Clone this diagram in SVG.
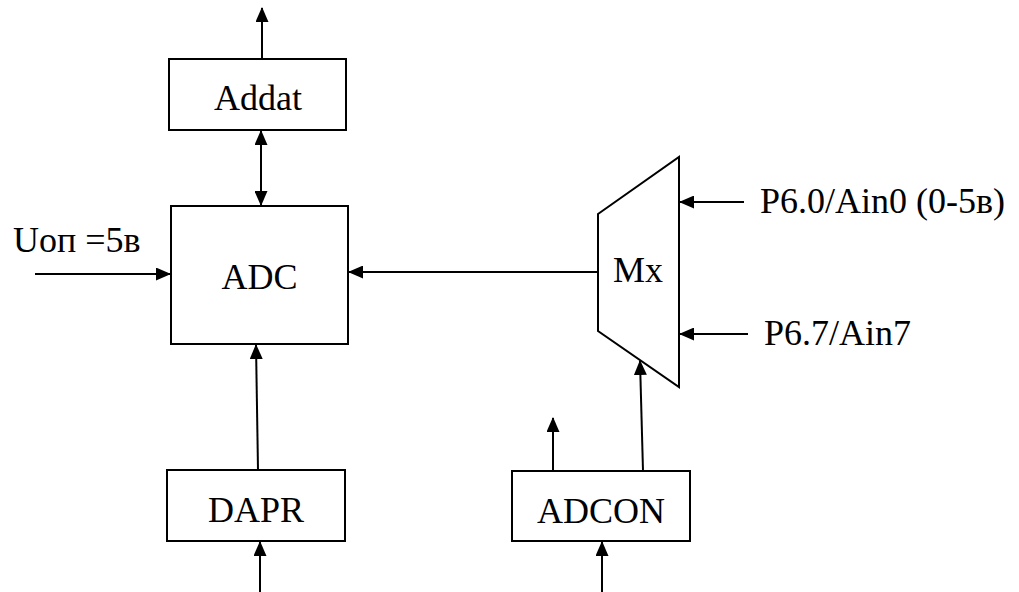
<svg xmlns="http://www.w3.org/2000/svg" width="1019" height="592" viewBox="0 0 1019 592">
<style>
.box{fill:#fff;stroke:#000;stroke-width:2}
.lbl{font-family:"Liberation Serif","Times New Roman",serif;font-size:36px;fill:#000}
.c{text-anchor:middle}
.wire{fill:none;stroke:#000;stroke-width:2}
</style>
<defs>
<marker id="ah" viewBox="0 0 15 13" refX="14" refY="6.5" markerWidth="15" markerHeight="13" markerUnits="userSpaceOnUse" orient="auto-start-reverse">
<path d="M0,0 L15,6.5 L0,13 z" fill="#000"/>
</marker>
</defs>
<rect width="1019" height="592" fill="#fff"/>
<g id="connectors">
<line class="wire" x1="262" y1="59" x2="262" y2="8" marker-end="url(#ah)"/>
<line class="wire" x1="261" y1="131" x2="261" y2="205" marker-start="url(#ah)" marker-end="url(#ah)"/>
<line class="wire" x1="35" y1="274" x2="170" y2="274" marker-end="url(#ah)"/>
<line class="wire" x1="598" y1="272" x2="349" y2="272" marker-end="url(#ah)"/>
<line class="wire" x1="744" y1="202" x2="680" y2="202" marker-end="url(#ah)"/>
<line class="wire" x1="748" y1="334" x2="680" y2="334" marker-end="url(#ah)"/>
<line class="wire" x1="258" y1="470" x2="256" y2="345" marker-end="url(#ah)"/>
<line class="wire" x1="643" y1="471" x2="640" y2="361" marker-end="url(#ah)"/>
<line class="wire" x1="553" y1="471" x2="553" y2="418" marker-end="url(#ah)"/>
<line class="wire" x1="260" y1="592" x2="260" y2="542" marker-end="url(#ah)"/>
<line class="wire" x1="602" y1="592" x2="602" y2="542" marker-end="url(#ah)"/>
</g>
<g id="addat">
<rect class="box" x="169" y="59" width="177" height="71"/>
<text class="lbl c" x="258" y="110">Addat</text>
</g>
<g id="adc">
<rect class="box" x="171" y="206" width="177" height="138"/>
<text class="lbl c" x="259.5" y="289">ADC</text>
</g>
<g id="mx">
<polygon class="box" points="598,214 679,157 679,387 598,331"/>
<text class="lbl c" x="638" y="282">Mx</text>
</g>
<g id="dapr">
<rect class="box" x="167" y="470" width="178" height="71"/>
<text class="lbl c" x="256" y="522">DAPR</text>
</g>
<g id="adcon">
<rect class="box" x="512" y="471" width="178" height="70"/>
<text class="lbl c" x="601" y="523">ADCON</text>
</g>
<g id="labels">
<text class="lbl" x="13" y="252">Uоп =5в</text>
<text class="lbl" x="760" y="213">P6.0/Ain0 (0-5в)</text>
<text class="lbl" x="764" y="345">P6.7/Ain7</text>
</g>
</svg>
